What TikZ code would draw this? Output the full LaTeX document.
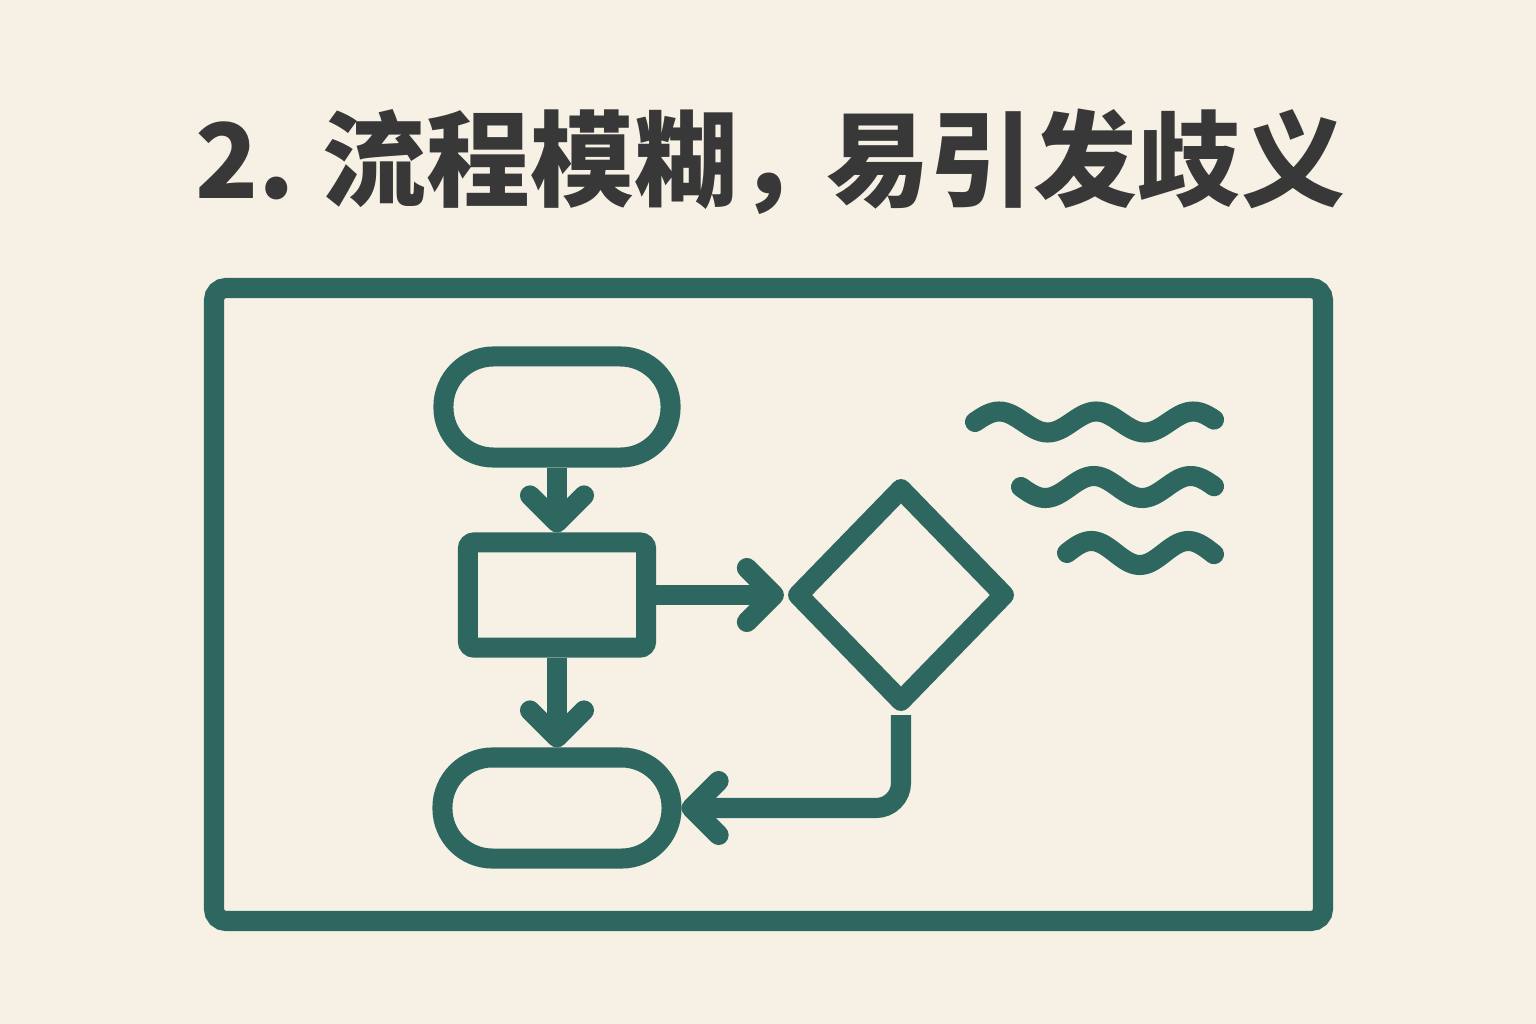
\documentclass[tikz,border=0pt]{standalone}
\usepackage{fontspec}
\newfontfamily\cjk{Noto Sans CJK SC}
\usetikzlibrary{shapes.geometric,arrows.meta}
\definecolor{papier}{HTML}{F7F1E5}
\definecolor{petrol}{HTML}{2E6660}
\definecolor{tinte}{HTML}{383838}
\newcommand{\periode}{97}

\begin{document}
\begin{tikzpicture}[x=0.01cm,y=-0.01cm,>={Straight Barb[length=0.27cm,width=0.54cm,round]},
	line width=5.7pt,color=petrol,
	kapsel/.style={draw,inner sep=0pt,minimum width=2.27cm,minimum height=1.01cm,rounded corners=0.5cm}]
	\fill[papier] (0,0) rectangle (1536,1024);
	\useasboundingbox (0,0) rectangle (1536,1024);

	\node[text=tinte,font=\cjk\bfseries\fontsize{29.5}{29.5}\selectfont] (titel) at (770,162)
		{2.\hspace{0.27em}流程模糊，\hspace{-0.15em}易引发歧义};

	\draw[rounded corners=0.12cm] (214,288) rectangle (1323,921);

	\node[kapsel] (start) at (557,407) {};
	\node[draw,inner sep=0pt,minimum width=1.78cm,minimum height=1.05cm,rounded corners=0.06cm] (schritt) at (557,595) {};
	\node[draw,diamond,line join=round,inner sep=0pt,minimum width=2.14cm,minimum height=2.2cm] (frage) at (901,595) {};
	\node[kapsel,minimum width=2.29cm] (ende) at (557,808) {};

	\draw[->] (start) -- (schritt);
	\draw[->] (schritt) -- (frage);
	\draw[->] (schritt) -- (ende);
	\draw[->,rounded corners=0.25cm] (frage.south) |- (ende.east);

	\def\welle#1#2#3{
		\draw[line cap=round] plot[domain=#1:1214, samples=80]
		(\x,{#2+#3*sin((\x-#1)/\periode*360)});
	}
	\welle{975}{422}{-10.5}
	\welle{1021}{487}{11}
	\welle{1067}{553}{-12}
\end{tikzpicture}
\end{document}
